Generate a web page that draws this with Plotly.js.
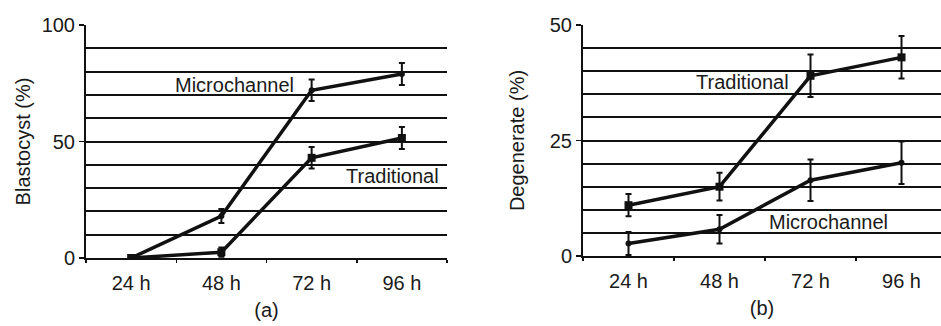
<!DOCTYPE html>
<html>
<head>
<meta charset="utf-8">
<script src="https://cdn.plot.ly/plotly-3.0.1.min.js"></script>
<style>html,body{margin:0;padding:0;background:#fff;}#chart{width:941px;height:326px;}</style>
</head>
<body>
<div id="chart"></div>
<script>
// ---- data ----
const timepoints = ['24 h', '48 h', '72 h', '96 h'];
const blastMicro = [0, 18, 72, 79];
const blastMicroErr = [0, 3, 4.6, 4.7];
const blastTrad = [0, 2.5, 43, 51.5];
const blastTradErr = [0, 2, 4.6, 4.7];
const degTrad = [11, 15, 39, 43];
const degTradErr = [2.4, 3, 4.6, 4.6];
const degMicro = [2.7, 5.8, 16.4, 20.2];
const degMicroErr = [2.5, 3.1, 4.5, 4.6];
const blastTicks = [0, 50, 100];
const blastGrid = [10, 20, 30, 40, 50, 60, 70, 80, 90];
const degTicks = [0, 25, 50];
const degGrid = [5, 10, 15, 20, 25, 30, 35, 40, 45];

const FONT = 'Liberation Sans, Arial, sans-serif';
const FS = 20;
const TXT = '#1a1a1a';

function series(y, err, xa, ya, sym, size) {
  return {
    x: timepoints, y: y, xaxis: xa, yaxis: ya,
    type: 'scatter', mode: 'lines+markers',
    line: {color: '#111', width: 3.5},
    marker: {color: '#111', symbol: sym, size: size},
    error_y: {type: 'data', array: err, visible: true, color: '#111', thickness: 2, width: 3},
    showlegend: false, hoverinfo: 'skip'
  };
}

const data = [
  series(blastMicro, blastMicroErr, 'x', 'y', 'circle', 6),
  series(blastTrad, blastTradErr, 'x', 'y', 'square', 8),
  series(degTrad, degTradErr, 'x2', 'y2', 'square', 8),
  series(degMicro, degMicroErr, 'x2', 'y2', 'circle', 6)
];

function xaxis(domain, range, title) {
  return {
    domain: domain, range: range, type: 'category',
    showline: true, linecolor: '#111', linewidth: 2,
    ticks: 'outside', ticklen: 3, tickwidth: 1.5, tickcolor: '#111', tickson: 'boundaries',
    showgrid: false, zeroline: false,
    tickfont: {family: FONT, size: FS, color: TXT},
    ticklabelstandoff: 6,
    title: {text: title, font: {family: FONT, size: FS, color: TXT}, standoff: 10},
    fixedrange: true
  };
}
function yaxis(domain, range, tickvals, grid, title, standoff) {
  return {
    domain: domain, range: range,
    tickmode: 'array', tickvals: tickvals, ticktext: tickvals.map(String),
    showline: true, linecolor: '#111', linewidth: 2,
    ticks: 'outside', ticklen: 5, tickwidth: 1.5, tickcolor: '#111',
    showgrid: false, zeroline: false,
    minor: {tickmode: 'array', tickvals: grid, showgrid: true, gridcolor: '#111', gridwidth: 2, ticks: ''},
    tickfont: {family: FONT, size: FS, color: TXT},
    title: {text: title, font: {family: FONT, size: FS, color: TXT}, standoff: standoff},
    fixedrange: true
  };
}

const W = 941, H = 326;
function label(text, px, py) {
  return {text: text, xref: 'paper', yref: 'paper', x: px / W, y: (H - py) / H,
    xanchor: 'center', yanchor: 'middle', showarrow: false,
    font: {family: FONT, size: FS, color: TXT}};
}
const layout = {
  width: W, height: H,
  margin: {l: 0, r: 0, t: 0, b: 0, pad: 0},
  paper_bgcolor: '#fff', plot_bgcolor: 'rgba(0,0,0,0)',
  font: {family: FONT, size: FS, color: TXT},
  xaxis: Object.assign(xaxis([86 / W, 447 / W], [-0.5, 3.5], '(a)'), {anchor: 'y'}),
  yaxis: Object.assign(yaxis([(H - 258) / H, (H - 25) / H], [0, 100], blastTicks, blastGrid, 'Blastocyst (%)', 6), {anchor: 'x'}),
  xaxis2: Object.assign(xaxis([583 / W, 1], [-0.5, 3.434], '(b)'), {anchor: 'y2'}),
  yaxis2: Object.assign(yaxis([(H - 256) / H, (H - 25) / H], [0, 50], degTicks, degGrid, 'Degenerate (%)', 20), {anchor: 'x2'}),
  annotations: [
    label('Microchannel', 234, 85),
    label('Traditional', 392, 176),
    label('Traditional', 742, 82),
    label('Microchannel', 828, 222)
  ]
};

Plotly.newPlot('chart', data, layout, {displayModeBar: false, staticPlot: true});
</script>
</body>
</html>
